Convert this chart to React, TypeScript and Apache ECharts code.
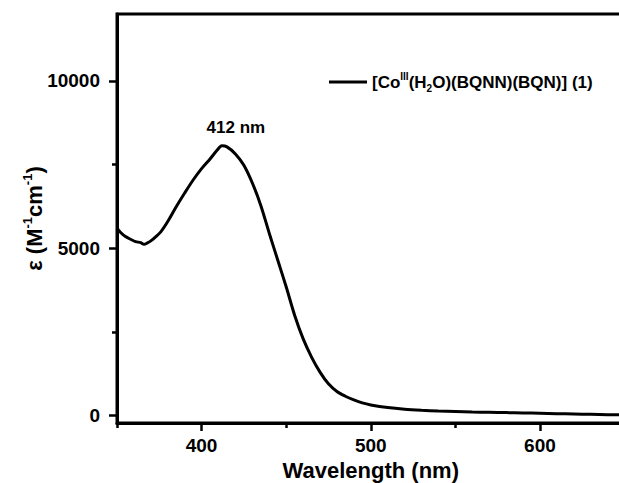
import React, { useEffect, useRef } from "react";
import * as echarts from "echarts";

// Wavelength (nm)
const wavelengths = [
  350, 352, 355, 358, 361, 364, 366, 368, 370, 373, 376, 380, 385, 390, 395, 400,
  405, 409, 412, 415, 420, 425, 430, 435, 440, 445, 450, 455, 460, 465, 470, 475,
  480, 485, 490, 495, 500, 510, 520, 530, 540, 550, 560, 570, 580, 590, 600, 610,
  620, 630, 640, 650,
];
// Molar absorptivity ε (M^-1 cm^-1)
const epsilon = [
  5600, 5480, 5350, 5270, 5200, 5170, 5120, 5160, 5220, 5350, 5500, 5800, 6240, 6650, 7040, 7380,
  7670, 7920, 8060, 8030, 7820, 7480, 6950, 6280, 5450, 4650, 3850, 3000, 2300, 1750, 1300, 950,
  720, 580, 470, 380, 320, 240, 190, 160, 140, 125, 110, 100, 90, 80, 72, 60,
  50, 40, 30, 20,
];

const xMajorTicks = [400, 500, 600];
const xMinorTicks = [350, 450, 550, 650];
const yMajorTicks = [0, 5000, 10000];
const yMinorTicks = [2500, 7500];

const seriesName = "[Co(III)(H2O)(BQNN)(BQN)] (1)";
const legendRich = "[Co{sup|III}(H{sub|2}O)(BQNN)(BQN)] (1)";
const yAxisTitle = "ε (M{sup|-1}cm{sup|-1})";
const xAxisTitle = "Wavelength (nm)";

const FONT = "'Liberation Sans', Arial, Helvetica, sans-serif";

export default function App() {
  const ref = useRef<HTMLDivElement>(null);

  useEffect(() => {
    if (!ref.current) return;
    const chart = echarts.init(ref.current, undefined, { renderer: "svg" });

    const data = wavelengths.map((w, i) => [w, epsilon[i]]);
    let peakIdx = 0;
    epsilon.forEach((v, i) => {
      if (v > epsilon[peakIdx]) peakIdx = i;
    });
    const peakLabel = `${wavelengths[peakIdx]} nm`;

    const axisLine = { show: true, onZero: false, lineStyle: { color: "#000", width: 3 } };
    const tickLine = { color: "#000", width: 2.5 };
    const labelStyle = {
      color: "#000",
      fontFamily: FONT,
      fontWeight: "bold" as const,
      fontSize: 19,
      formatter: (v: number) => String(v),
    };

    chart.setOption({
      animation: false,
      backgroundColor: "#fff",
      grid: {
        left: 117,
        top: 14,
        width: 507.5,
        height: 409,
        show: true,
        borderColor: "#000",
        borderWidth: 3,
        containLabel: false,
        outerBoundsMode: "none",
      },
      legend: {
        show: true,
        data: [seriesName],
        left: 329,
        top: 71,
        padding: 0,
        icon: "rect",
        itemWidth: 38,
        itemHeight: 3,
        selectedMode: false,
        formatter: () => legendRich,
        textStyle: {
          color: "#000",
          fontFamily: FONT,
          fontWeight: "bold",
          fontSize: 17,
          lineHeight: 22,
          rich: {
            sup: {
              fontFamily: FONT,
              fontWeight: "bold",
              fontSize: 10,
              lineHeight: 10,
              verticalAlign: "top",
              color: "#000",
            },
            sub: {
              fontFamily: FONT,
              fontWeight: "bold",
              fontSize: 10,
              lineHeight: 10,
              verticalAlign: "bottom",
              color: "#000",
            },
          },
        },
      },
      xAxis: [
        {
          type: "value",
          min: 350,
          max: 650,
          position: "bottom",
          axisLine,
          axisTick: { show: true, customValues: xMajorTicks, length: 8, lineStyle: tickLine },
          axisLabel: { ...labelStyle, customValues: xMajorTicks, margin: 13 },
          splitLine: { show: false },
          name: xAxisTitle,
          nameLocation: "middle",
          nameGap: 36,
          nameMoveOverlap: false,
          nameTextStyle: {
            color: "#000",
            fontFamily: FONT,
            fontWeight: "bold",
            fontSize: 22,
          },
        },
        {
          type: "value",
          min: 350,
          max: 650,
          position: "bottom",
          axisLine: { show: false, onZero: false },
          axisTick: { show: true, customValues: xMinorTicks, length: 5, lineStyle: tickLine },
          axisLabel: { show: false },
          splitLine: { show: false },
        },
      ],
      yAxis: [
        {
          type: "value",
          min: -220,
          max: 12000,
          position: "left",
          axisLine,
          axisTick: { show: true, customValues: yMajorTicks, length: 8, lineStyle: tickLine },
          axisLabel: { ...labelStyle, customValues: yMajorTicks, margin: 17 },
          splitLine: { show: false },
          name: yAxisTitle,
          nameLocation: "middle",
          nameRotate: 90,
          nameGap: 70,
          nameMoveOverlap: false,
          nameTextStyle: {
            color: "#000",
            fontFamily: FONT,
            fontWeight: "bold",
            fontSize: 22,
            lineHeight: 26,
            rich: {
              sup: {
                fontFamily: FONT,
                fontWeight: "bold",
                fontSize: 13,
                lineHeight: 13,
                verticalAlign: "top",
                color: "#000",
              },
            },
          },
        },
        {
          type: "value",
          min: -220,
          max: 12000,
          position: "left",
          axisLine: { show: false, onZero: false },
          axisTick: { show: true, customValues: yMinorTicks, length: 5, lineStyle: tickLine },
          axisLabel: { show: false },
          splitLine: { show: false },
        },
      ],
      series: [
        {
          name: seriesName,
          type: "line",
          xAxisIndex: 0,
          yAxisIndex: 0,
          data,
          smooth: 0.3,
          symbol: "none",
          showSymbol: false,
          color: "#000",
          lineStyle: { color: "#000", width: 3 },
          markPoint: {
            symbol: "circle",
            symbolSize: 0,
            data: [{ coord: [wavelengths[peakIdx], epsilon[peakIdx]] }],
            label: {
              show: true,
              position: "inside",
              offset: [14, -18],
              formatter: peakLabel,
              color: "#000",
              fontFamily: FONT,
              fontWeight: "bold",
              fontSize: 17,
            },
          },
        },
      ],
    });

    return () => chart.dispose();
  }, []);

  return (
    <div
      ref={ref}
      style={{ position: "fixed", left: 0, top: 0, width: 619, height: 483, background: "#fff" }}
    />
  );
}
